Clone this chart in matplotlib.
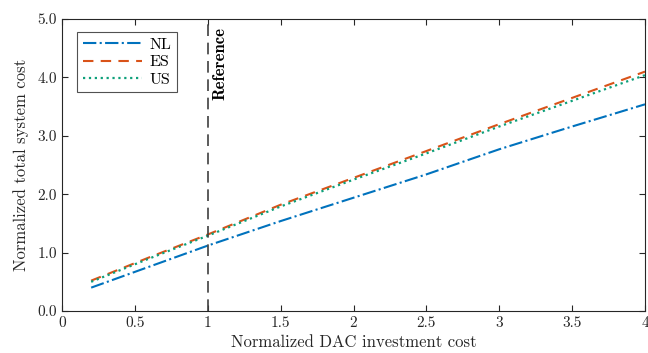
import matplotlib
matplotlib.use('Agg')
from matplotlib import pyplot as plt

plt.rcParams['font.family'] = 'serif'
plt.rcParams['font.serif'] = ['cmr10', 'DejaVu Serif']
plt.rcParams['axes.unicode_minus'] = False

# normalized DAC investment cost
dac_cost = [0.2, 0.6, 1.0, 1.5, 2.0, 2.5, 3.0, 3.5, 4.0]
# normalized total system cost per country
cost_nl = [0.40, 0.76, 1.12, 1.54, 1.94, 2.34, 2.77, 3.16, 3.54]
cost_es = [0.52, 0.92, 1.31, 1.82, 2.28, 2.74, 3.20, 3.65, 4.10]
cost_us = [0.50, 0.90, 1.29, 1.79, 2.25, 2.70, 3.16, 3.60, 4.04]

x_ticks = [0, 0.5, 1, 1.5, 2, 2.5, 3, 3.5, 4]
x_labels = ['0', '0.5', '1', '1.5', '2', '2.5', '3', '3.5', '4']
y_ticks = [0, 1, 2, 3, 4, 5]
y_labels = ['0.0', '1.0', '2.0', '3.0', '4.0', '5.0']

fig = plt.figure(figsize=(6.48, 3.53), dpi=100)
ax = fig.add_axes([0.0957, 0.119, 0.8997, 0.827])

ax.plot(dac_cost, cost_nl, '-.', color='#0072BD', lw=1.5, label='NL')
ax.plot(dac_cost, cost_es, color='#D95319', lw=1.5, ls=(0, (5, 3.5)), label='ES')
ax.plot(dac_cost, cost_us, ':', color='#0DA07A', lw=1.6, label='US')

ax.axvline(1, color='#404040', lw=1.2, ls=(0, (7, 4)))
ax.text(1.035, 4.87, 'Reference', rotation=90, ha='left', va='top',
        family='cmb10', fontsize=12)

ax.set_xlim(0, 4)
ax.set_ylim(0, 5)
ax.set_xticks(x_ticks)
ax.set_xticklabels(x_labels)
ax.set_yticks(y_ticks)
ax.set_yticklabels(y_labels)
ax.tick_params(direction='in', top=True, right=True, length=4,
               color='#262626', labelsize=11, labelcolor='#262626')
for s in ax.spines.values():
    s.set_color('#262626')
    s.set_linewidth(0.8)

ax.set_xlabel('Normalized DAC investment cost', fontsize=12, color='#262626', labelpad=4)
ax.set_ylabel('Normalized total system cost', fontsize=12, color='#262626', labelpad=6)

leg = ax.legend(loc='upper left', bbox_to_anchor=(0.026, 0.955), borderaxespad=0,
                fontsize=11.5, frameon=True, fancybox=False, edgecolor='#262626',
                handlelength=3.7, borderpad=0.35, labelspacing=0.2, handletextpad=0.5)
leg.get_frame().set_linewidth(0.8)

fig.savefig('out.png', dpi=100)
